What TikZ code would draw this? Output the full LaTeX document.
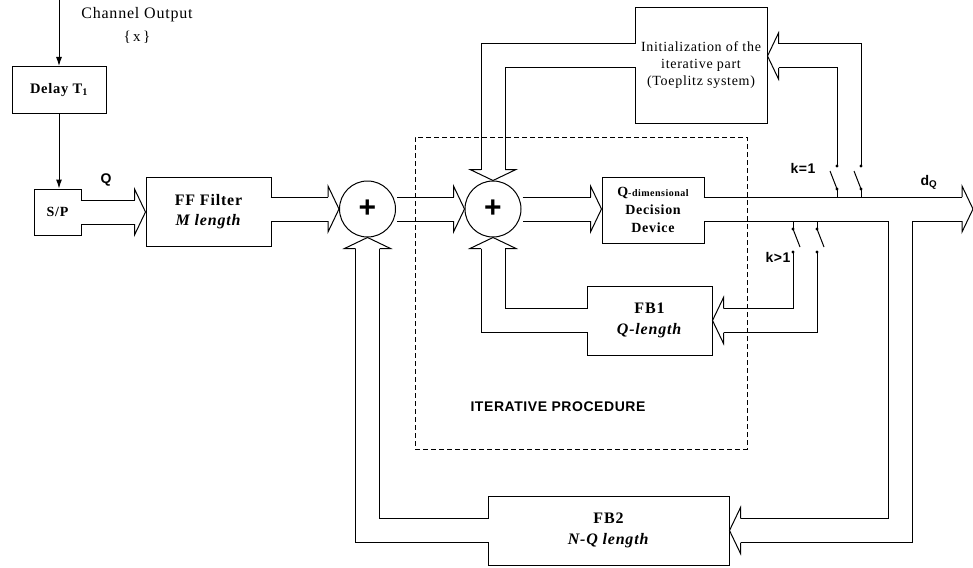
\documentclass[tikz,border=0pt]{standalone}
\usepackage{fontspec}
\setmainfont{Liberation Serif}[LetterSpace=5]
\setsansfont{Liberation Sans}[LetterSpace=4]
\usepackage{tikz}
\usetikzlibrary{arrows.meta, calc}
\tikzset{
  blk/.style={draw, line width=1pt, inner sep=0pt, align=center},
  adder/.style={draw, circle, line width=1pt, minimum size=56pt, inner sep=0pt, font=\sffamily\bfseries\fontsize{30}{30}\selectfont},
  bus/.style={double=white, double distance=23pt, line width=1pt},
  buscut/.style={white, line width=23pt},
  wire/.style={line width=1pt},
  sig/.style={wire, -{Latex[length=9pt, width=6pt]}},
  lbl/.style={font=\sffamily\bfseries\fontsize{14}{16}\selectfont},
  fathead/.pic={\draw[line width=1pt] (-11,-12) -- (-11,-23) -- (0,0) -- (-11,23) -- (-11,12);},
  swt/.pic={\fill (0,0) circle (1.7) (0,-23) circle (1.7); \draw[line width=1pt] (0,0) -- (-7,-18);}
}

\begin{document}
\begin{tikzpicture}[x=1pt, y=-1pt]
  \useasboundingbox (0,0) rectangle (973,567);
  \coordinate (chan) at (59,0);
  \node[blk, minimum width=94pt, minimum height=47pt, font=\bfseries\fontsize{14.5}{16}\selectfont] (delay) at (59,90) {Delay T\textsubscript{1}};
  \node[blk, minimum width=47pt, minimum height=46pt, font=\bfseries\fontsize{14}{16}\selectfont] (sp) at (57.5,212) {S/P};
  \node[blk, minimum width=125pt, minimum height=69pt, font=\bfseries\fontsize{16}{20}\selectfont] (ff) at (208.5,211.5) {FF Filter\\\textit{M length}};
  \node[adder] (add1) at (367.5,209) {+};
  \node[adder] (add2) at (493,209) {+};
  \node[blk, minimum width=102pt, minimum height=66pt, font=\bfseries\fontsize{14}{18}\selectfont] (dec) at (653,210) {Q{\fontsize{10}{18}\selectfont-dimensional}\\Decision\\Device};
  \node[blk, minimum width=132pt, minimum height=115pt, font=\fontsize{14}{17}\selectfont] (init) at (701,65.5) {Initialization of the\\iterative part\\(Toeplitz system)};
  \node[blk, minimum width=125pt, minimum height=69pt, font=\bfseries\fontsize{16}{21}\selectfont] (fb1) at (649.5,320.5) {FB1\\\textit{Q-length}};
  \node[blk, minimum width=241pt, minimum height=69pt, font=\bfseries\fontsize{16}{21}\selectfont] (fb2) at (608.5,530.5) {FB2\\\textit{N-Q length}};
  \coordinate (out) at (973,209);
  \coordinate (split) at (900.5,209);
  \coordinate (initin) at ($(init.east)+(0,-9.5)$);
  \coordinate (initout) at ($(init.west)+(0,-9.5)$);
  \coordinate (ka) at (837,189);
  \coordinate (kb) at (861,189);
  \coordinate (ma) at (793,229);
  \coordinate (mb) at (817,229);

  \node[font=\fontsize{16}{18}\selectfont] (chanlbl) at (137,15) {Channel Output};
  \node[font=\fontsize{15}{18}\selectfont] (xlbl) at (137,37) {\{\,x\,\}};
  \node[lbl] (qlbl) at (106,180) {Q};
  \node[lbl] (k1lbl) at (803,168) {k=1};
  \node[lbl] (k2lbl) at (778,257) {k>1};
  \node[lbl] (dqlbl) at (929,182) {d\textsubscript{Q}};

  \draw[sig] (chan) -- (delay.north);
  \draw[sig] (delay.south) -- (delay.south |- sp.north);
  \draw[bus] ($(sp.east)+(-1,0)$) -- ($(ff.west |- sp.east)+(-11,0)$);
  \pic at (ff.west |- sp.east) {fathead};
  \draw[bus] ($(ff.east |- add1.west)+(-1,0)$) -- ($(add1.west)+(-11,0)$);
  \pic at (add1.west) {fathead};
  \draw[bus] ($(add1.east)+(1,0)$) -- ($(add2.west)+(-11,0)$);
  \pic at (add2.west) {fathead};
  \draw[bus] ($(add2.east)+(1,0)$) -- ($(dec.west |- add2.east)+(-11,0)$);
  \pic at (dec.west |- add2.east) {fathead};
  \draw[bus] (split) |- ($(fb2.east)+(11,0)$);
  \pic[rotate=180] at (fb2.east) {fathead};
  \draw[bus] ($(dec.east |- add2.east)+(-1,0)$) -- ($(out)+(-11,0)$);
  \draw[buscut] (split) -- ++(0,14);
  \pic at (out) {fathead};
  \draw[bus] ($(initout)+(1,0)$) -| ($(add2.north)+(0,-11)$);
  \pic[rotate=-90] at (add2.north) {fathead};
  \draw[bus] ($(fb1.west)+(1,0)$) -| ($(add2.south)+(0,11)$);
  \pic[rotate=90] at (add2.south) {fathead};
  \draw[bus] ($(fb2.west)+(1,0)$) -| ($(add1.south)+(0,11)$);
  \pic[rotate=90] at (add1.south) {fathead};

  \pic at (ka) {swt};
  \pic at (kb) {swt};
  \pic[rotate=180] at (ma) {swt};
  \pic[rotate=180] at (mb) {swt};
  \draw[wire] (ka) -- ++(0,8) (kb) -- ++(0,8);
  \draw[wire] (ma) -- ++(0,-8) (mb) -- ++(0,-8);
  \draw[wire] ($(ka)+(0,-23)$) |- ($(initin)+(11,12)$);
  \draw[wire] ($(kb)+(0,-23)$) |- ($(initin)+(11,-12)$);
  \pic[rotate=180] at (initin) {fathead};
  \draw[wire] ($(ma)+(0,23)$) |- ($(fb1.east)+(11,-12)$);
  \draw[wire] ($(mb)+(0,23)$) |- ($(fb1.east)+(11,12)$);
  \pic[rotate=180] at (fb1.east) {fathead};

  \node[draw, line width=1pt, dash pattern=on 5pt off 3pt, minimum width=332pt, minimum height=312pt] (iter) at (581,293) {};
  \node[lbl] (iterlbl) at (558,407) {ITERATIVE PROCEDURE};
\end{tikzpicture}
\end{document}
